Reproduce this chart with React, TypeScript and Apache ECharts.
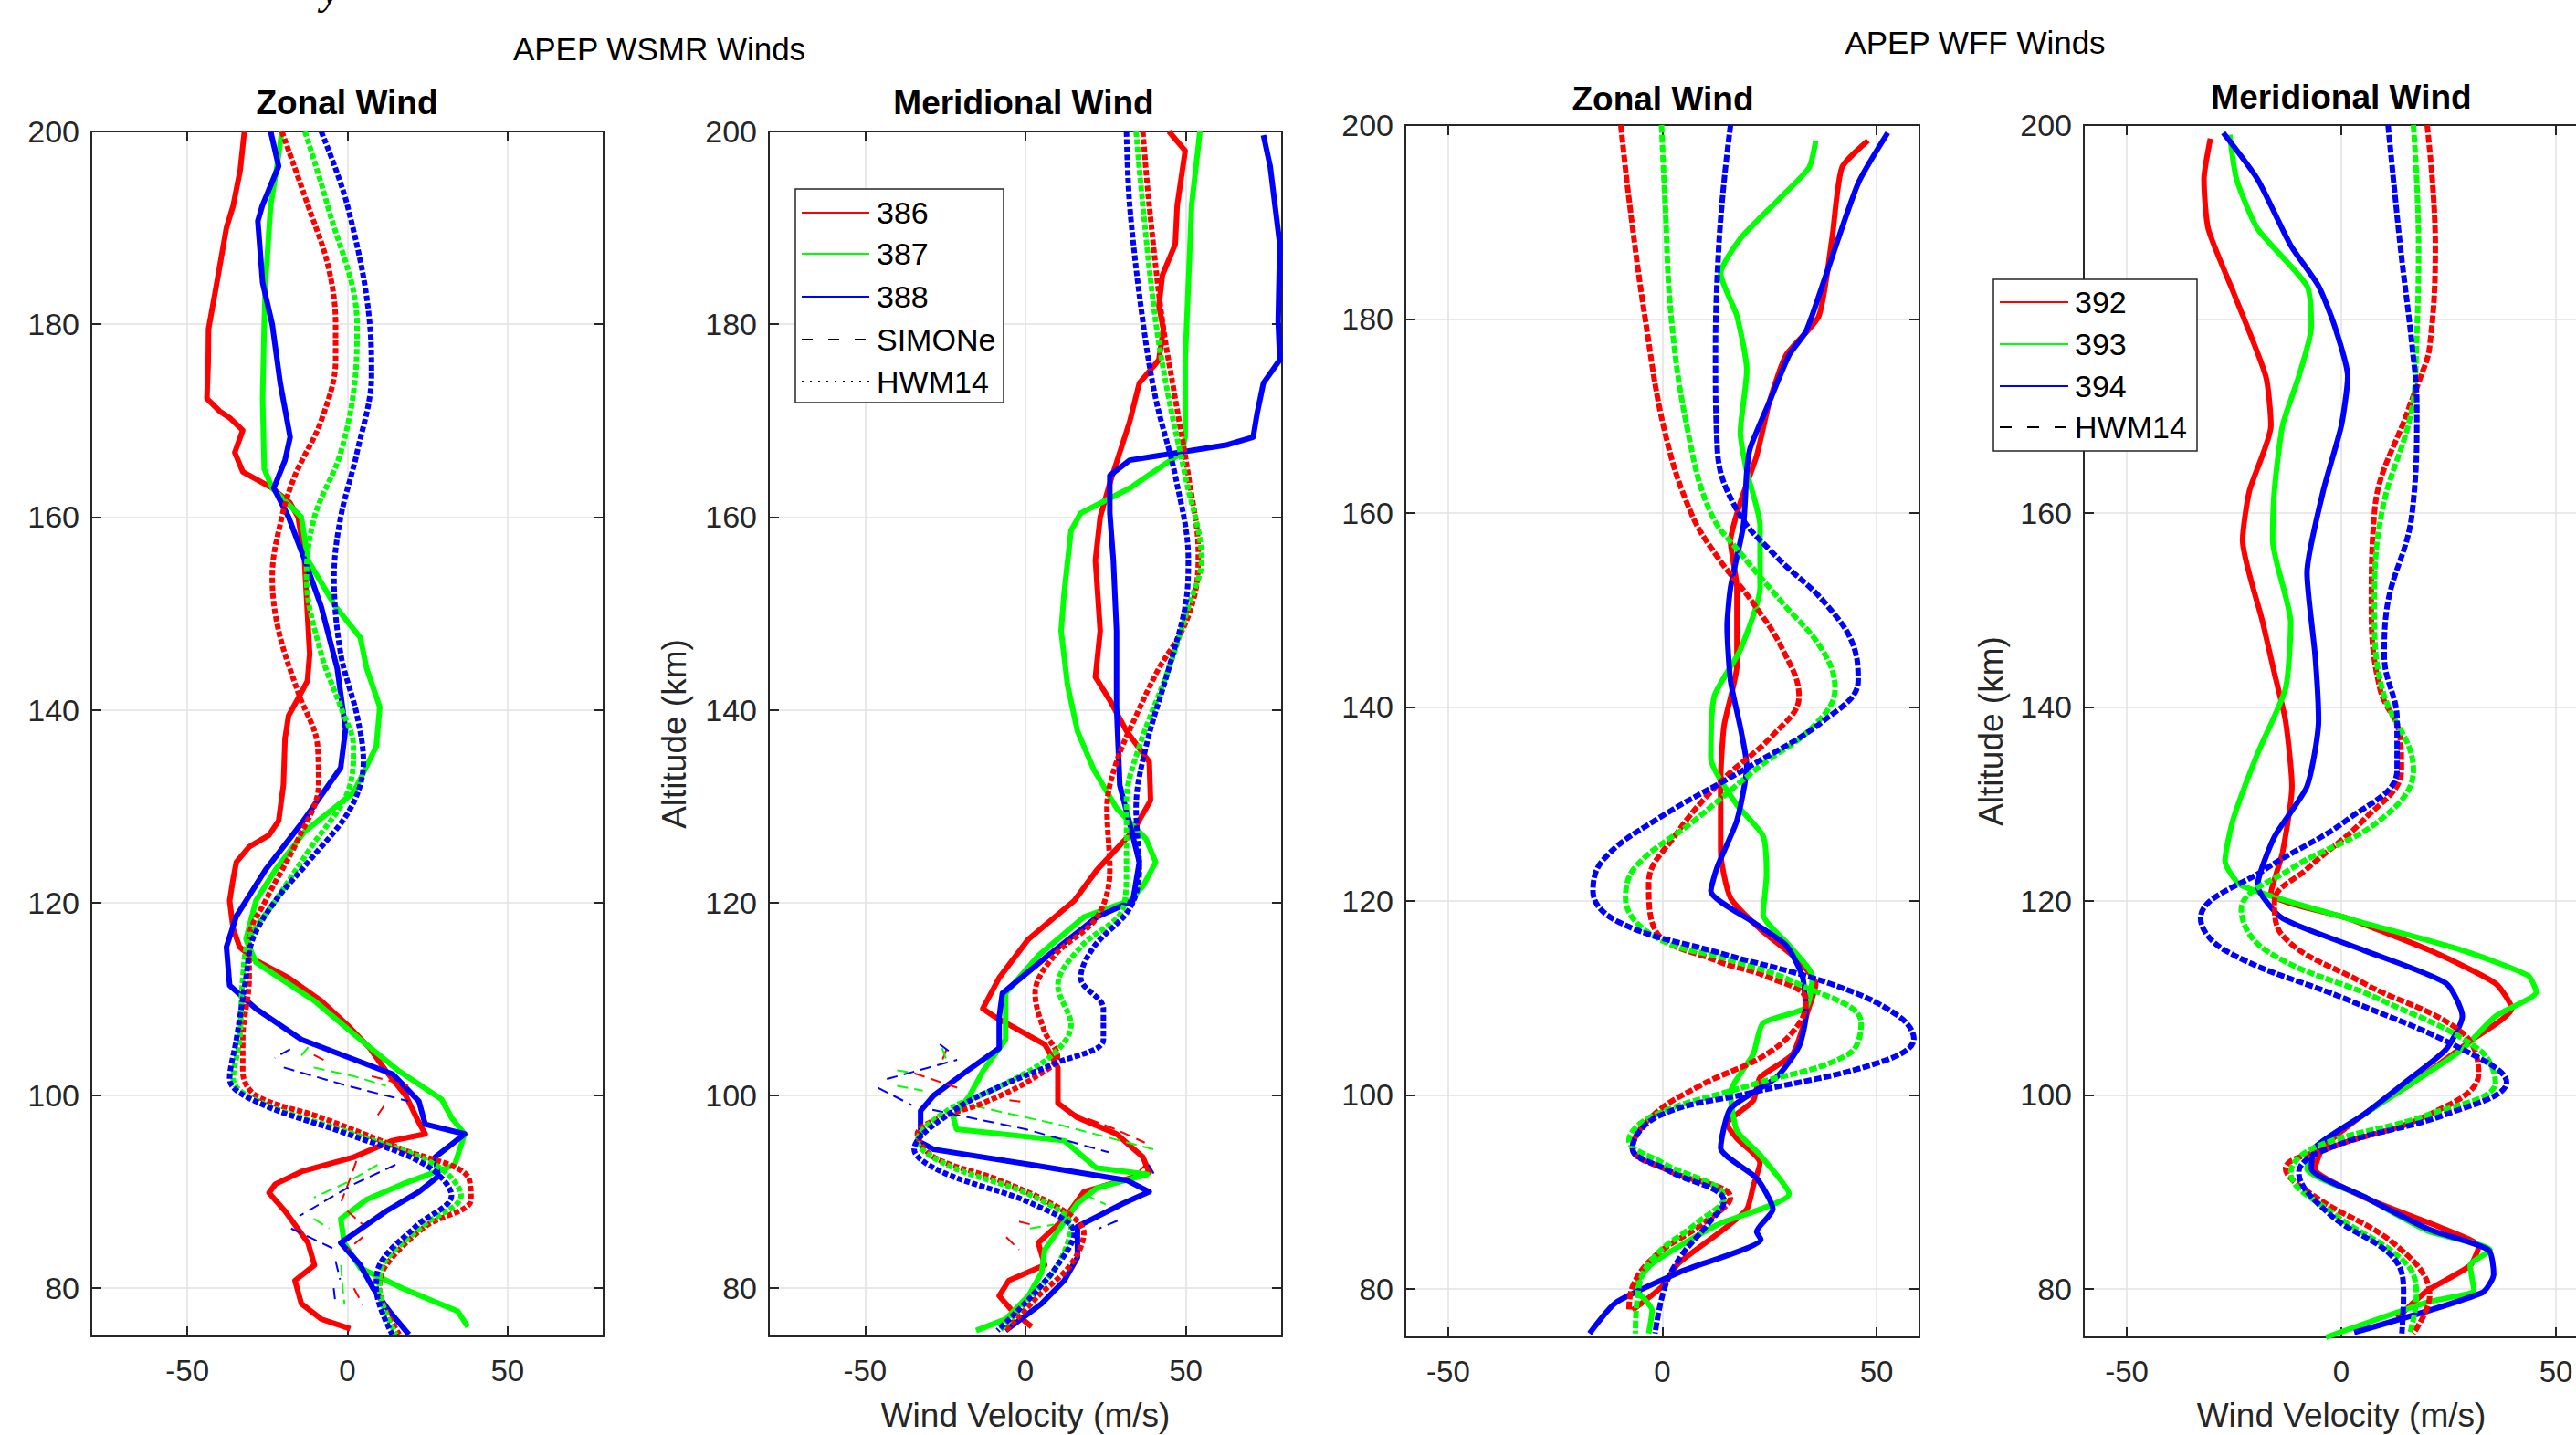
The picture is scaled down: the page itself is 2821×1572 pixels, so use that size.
import React, { useEffect, useRef } from 'react';
import * as echarts from 'echarts';

type Pt = [number, number]; // [altitude km, velocity m/s]

const RED = '#ff0000';
const GREEN = '#00ff00';
const BLUE = '#0000ff';
const FONT = "'Liberation Sans', Arial, Helvetica, sans-serif";
const AXIS_COLOR = '#262626';

const altTicks = [80, 100, 120, 140, 160, 180, 200];
const velTicks = [-50, 0, 50];
const panelTitles = ['Zonal Wind', 'Meridional Wind', 'Zonal Wind', 'Meridional Wind'];
const superTitles = ['APEP WSMR Winds', 'APEP WFF Winds'];
const wsmrFlights = ['386', '387', '388'];
const wffFlights = ['392', '393', '394'];

// ---------- WSMR zonal (panel 1) ----------
const wsmrZonal386: Pt[] = [[200,-32.2],[196,-33.5],[192.3,-35.7],[190,-37.8],[184.3,-40.8],[179.5,-43.4],[176,-43.5],[172.3,-43.9],[171,-40],[170.3,-36.8],[169,-32.7],[166.7,-35.2],[164.7,-32.7],[163,-23.5],[161.5,-18],[160,-15.4],[156,-13.5],[150,-12.5],[145.8,-11.8],[143,-12.5],[141.8,-14.4],[139.4,-18.4],[137,-19.5],[132.2,-20],[128.5,-21.5],[127,-24.5],[125.8,-30.7],[124.2,-34.7],[122.5,-35.7],[120.2,-36.8],[117.3,-35.7],[115.4,-33.7],[114,-28.6],[112.2,-18.4],[109.8,-8.2],[107.3,0],[104.9,7],[102.5,12.1],[100,18.2],[97.2,22.3],[96,24.3],[95.3,14],[93.6,2],[92.1,-14.4],[90.8,-22.5],[89.9,-24.5],[88,-19.5],[84.7,-12.3],[82.4,-10.3],[80.8,-16.4],[78.4,-14.4],[76.8,-8.2],[75.8,0.9]];
const wsmrZonal387: Pt[] = [[200,-20.5],[196.4,-22],[192.3,-24],[184.3,-25.6],[180,-26],[172.3,-26.5],[165,-26],[163,-23.5],[160,-14.4],[155.5,-12.3],[150.7,-3.7],[147.5,4],[144.3,6],[140.3,10.1],[136.2,9],[131.4,1.9],[127.4,-13.3],[123.4,-22.5],[120.2,-28.6],[116.2,-31.7],[113.8,-28.6],[109.8,-10.3],[105.8,4],[102.5,16.2],[99.6,29.4],[97.7,32.5],[96,36.6],[92.8,33.5],[90.8,17.2],[89.2,6],[87.2,-2.1],[84.7,-1],[82.1,4],[80,17.2],[77.6,34.5],[76,37.6]];
const wsmrZonal388: Pt[] = [[200,-24],[196.4,-21.5],[192.3,-26.6],[190.7,-28],[184.3,-26.5],[180,-23.5],[173.9,-21],[168.3,-17.9],[165.9,-19.5],[163,-23],[160,-18.4],[155.5,-13.3],[150.7,-8.2],[144.3,-3.2],[138,-0.6],[134,-2.1],[128.2,-14.4],[123.4,-25.6],[118.6,-34.7],[115.4,-37.8],[111.4,-36.8],[109,-28.6],[105.8,-14.4],[102.2,14.2],[99.4,22.3],[97,24.3],[96,36.6],[93.6,27.4],[91.6,28.4],[90,22.3],[88,12.1],[84.7,-2.1],[82.4,4],[80,8],[77.6,13.1],[75.2,19.2]];
const wsmrZonalHwm386: Pt[] = [[200,-20.5],[192.3,-12.3],[186,-6],[180,-3.7],[176.3,-3.7],[170,-8.2],[164.3,-16.4],[160,-20.5],[153.8,-23.5],[148.2,-21.5],[141.8,-15.4],[136.2,-9.3],[132.2,-9],[126.6,-15.4],[120.2,-25.6],[116.2,-30.7],[112.2,-30.7],[105.8,-32.7],[102.5,-32.7],[100,-28.6],[97.7,-8.2],[94.4,17.2],[91.6,37.6],[89.2,38.6],[86.4,24.3],[82.4,12.1],[80,10],[75.2,16.2]];
const wsmrZonalHwm387: Pt[] = [[200,-13.3],[192.3,-6.2],[180,3],[174.7,2.5],[166.7,-2.1],[160,-10.3],[153.8,-12.8],[145.8,-8.2],[140.3,-2.1],[136.2,1.9],[131.4,0],[125.8,-11.3],[120.2,-22.5],[116.2,-30.7],[112.2,-32.7],[105.8,-33.7],[101.7,-35.7],[99.2,-26.5],[96,1.9],[92.8,27.4],[89.6,35.5],[86.4,23.3],[82.4,11.1],[80,10],[75.2,15.2]];
const wsmrZonalHwm388: Pt[] = [[200,-8.2],[192.3,0],[180,7],[174.7,7.5],[166.7,3],[160,-2.1],[153.8,-4.2],[145.8,-2.1],[139.4,3],[134.6,5],[129.8,1],[124.2,-12.3],[120.2,-22.5],[116.2,-29.6],[112.2,-31.7],[105.8,-34.7],[101.7,-36.8],[99.2,-27.5],[96,0],[92.8,24.3],[89.6,32.5],[86.4,21.3],[82.4,10],[80,9],[75.2,14]];
const wsmrZonalSim386: Pt[][] = [[[104.2,-10.5],[103.4,-5.7]],[[102,7.6],[101,19]],[[98.9,11.4],[97.5,8.5]],[[93.2,2.8],[91.5,1],[89,-1.9]],[[88,0],[86.6,4.8]],[[85.3,4.8],[84,0]],[[80,2],[78.3,4.8]]];
const wsmrZonalSim387: Pt[][] = [[[105,-12.2],[103.9,-15]],[[102.9,-10.5],[102,2],[101,12]],[[92.8,9.4],[91,0],[89.4,-10.5]],[[87.2,-10.5],[86.2,-5.7]],[[82.4,-2],[80,-1.5],[78.3,-0.9]]];
const wsmrZonalSim388: Pt[][] = [[[104.8,-17.9],[103.9,-22.7]],[[102.9,-19.9],[101,0],[99.4,19]],[[92.8,15],[90.8,2],[87.5,-15]],[[86.2,-17.6],[84,-3.7]],[[82.8,-3.7],[80.9,-2.3]],[[80,-4.3],[78.3,-3.7]]];

// ---------- WSMR meridional (panel 2) ----------
const wsmrMerid386: Pt[] = [[200,44.7],[198,49.8],[192.3,47.3],[188.3,46.7],[185.1,42.7],[181.9,41.6],[179.5,43],[176.3,41.6],[173.9,35.5],[169.9,32.5],[166.7,29.4],[163.5,26.3],[160,23.3],[155.5,21.8],[148.2,23.3],[143.4,21.8],[141,26.3],[137.8,31.5],[134.6,38.6],[130.6,39],[127.4,33.5],[123.4,22.3],[120.2,15.2],[116.2,0.9],[112.2,-8.2],[109,-13.3],[108.1,-9.3],[105.3,6],[102.9,10.1],[99.2,10.1],[97.7,16.2],[96,28.4],[93.6,36.6],[92,38.6],[90,18.2],[87.2,12.1],[84.7,4],[82.4,6],[80.8,-5.2],[79.2,-8.2],[77.6,-4],[76,1.9]];
const wsmrMerid387: Pt[] = [[200,54.4],[192.3,51.8],[184.3,50.8],[176.3,49.8],[168.3,49.8],[166.7,48.8],[163,32.5],[160.4,17.2],[158.6,14.2],[152.3,12.1],[148.2,11.1],[142.6,13.1],[137.8,16.2],[133.8,21.3],[129.8,28.4],[126.6,37.6],[124.2,40.6],[121.7,36.6],[120.2,32.5],[118.5,18.2],[114.5,4],[110.6,-6.2],[105.8,-6.2],[102.5,-13.3],[100,-17.4],[97.7,-22.5],[96.5,-21.5],[95.3,12.1],[92.5,22],[91.8,38],[90.4,22.3],[88.8,16.2],[86.4,11.1],[84,6],[81.6,5],[79.2,0.9],[76.8,-6.2],[75.6,-15.4]];
const wsmrMerid388: Pt[] = [[199.6,74.2],[196.4,76.3],[188.3,79.3],[180.3,78.8],[176.3,79.3],[173.9,74.2],[170.7,72.2],[168.3,71],[167.5,63],[165.9,32.5],[164.3,26.3],[160.4,26.3],[155.5,27.4],[148.2,28.4],[140.3,28.4],[132.2,29.4],[128.2,32.5],[124.2,35.5],[120.2,33.5],[118.5,22.3],[114.5,7],[110.6,-7.2],[108.1,-8.2],[104.9,-8.2],[102.5,-18.4],[100,-28.6],[98.4,-32.7],[96,-32.7],[95.3,-33.7],[94.4,-28.6],[92.8,1.9],[91.2,31.5],[90,38.6],[88.8,30.5],[86.4,16.2],[83.2,16.2],[80.8,12.1],[78.4,5],[75.6,-6.2]];
const wsmrMeridHwm386: Pt[] = [[200,36.6],[192.3,38.6],[180.3,42.7],[172.3,46.7],[164.3,50.8],[156.3,53.9],[152.3,53],[148.2,48.8],[144.3,41.6],[139.4,34.5],[134.6,28.4],[129.8,25.4],[123.4,26.3],[118.5,22.3],[114.5,9],[110.6,3],[106.6,6],[104.1,10],[101.7,2],[99.2,-13.3],[97.7,-26.5],[96,-33.7],[93.6,-28.6],[91.2,-8.2],[88,12.1],[85.7,18.2],[82.4,14],[79.2,4],[75.6,-6.2]];
const wsmrMeridHwm387: Pt[] = [[200,34.5],[192.3,36.6],[180.3,40.6],[172.3,44.7],[164.3,49.8],[155.5,54.9],[150.7,50.8],[144.3,44.7],[136.2,35.5],[130.6,31.5],[123.4,31.5],[119.4,30.4],[115.4,17.2],[111.4,10.1],[107.3,14.2],[104.1,8],[100.9,-8.2],[98.4,-24.5],[95.3,-33.7],[92.8,-24.5],[89.6,1.9],[86.4,14.2],[82.4,10],[79.2,2],[75.6,-8]];
const wsmrMeridHwm388: Pt[] = [[200,31.5],[192.3,32.5],[180.3,36.6],[172.3,40.6],[164.3,46.7],[155.5,50.8],[150.7,49.8],[144.3,44.7],[136.2,37.6],[129.8,34.5],[123.4,35.5],[119.4,32.5],[115.4,21.3],[112.2,17.2],[109,24.3],[105.8,24.3],[103.3,9],[100.9,-8.2],[98.4,-22.5],[94.4,-34.7],[92,-25.6],[88.8,1.9],[85.7,15.2],[82.4,10],[79.2,2],[75.6,-8.7]];
const wsmrMeridSim386: Pt[][] = [[[104.8,-24.6],[103.6,-26]],[[102.3,-34.7],[100.8,-21.3]],[[99.5,-5],[99.3,0]],[[98.2,14.5],[96.5,28],[95.1,37.2]],[[93,38],[92,35]],[[86.9,-2],[86.6,1.8]],[[85.3,-6],[84,-2]]];
const wsmrMeridSim387: Pt[][] = [[[104.9,-26],[103.8,-24.8]],[[102.6,-40],[102.3,-34.7]],[[101,-40],[100.5,-32]],[[99.3,-21.3],[97,10],[94.4,40]],[[89.7,18.5],[88.7,25]],[[86.2,1.4],[86.6,8.9]]];
const wsmrMeridSim388: Pt[][] = [[[105.3,-26.7],[104.6,-23.9]],[[101.7,-43.2],[103.7,-21.3]],[[100.8,-46],[99,-35.5]],[[98.5,-29],[96.5,0],[94.1,25.9]],[[92.8,38.4],[91.9,40]],[[87,28.7],[86.2,23]]];

// ---------- WFF zonal (panel 3) ----------
const wffZonal392: Pt[] = [[198.4,48],[195.6,41.9],[188.3,39.6],[180.3,36.5],[176.3,28.9],[171.5,25],[165.9,22],[161.1,18.2],[157.1,15.9],[152.3,17.4],[144.3,17.4],[138.1,14.4],[132.5,13.6],[125.1,13.6],[120.3,15.9],[117.1,22.8],[113.8,31.9],[111.4,35.8],[109,34.2],[104.2,30.4],[101.8,22.8],[99.4,21.2],[97,15.1],[95.5,17.4],[93,22.8],[90.6,21.2],[88.2,19.7],[85.9,13.6],[82.6,3.7],[80.2,-0.2],[77.8,-7]];
const wffZonal393: Pt[] = [[198.4,35.8],[195.6,34.2],[192.4,27.3],[188.3,18.2],[184.7,13.6],[180.3,17.4],[174.7,19.7],[168.3,18.2],[164.3,19.7],[158.7,22.8],[152.3,22.8],[145.9,18.2],[141.1,12.1],[134.7,11.3],[129.9,17.4],[126.7,23.5],[122.7,24.3],[118.6,23.5],[115.4,29.6],[112.2,35],[109,33.5],[107.4,23.5],[104.2,21.2],[100.2,15.9],[96.3,17.4],[93.8,22.8],[89.8,29.6],[86.6,12.8],[82.6,-2.4],[80.2,-6.3],[77.8,-2.4],[75.4,-3.2]];
const wffZonal394: Pt[] = [[199.2,52.6],[194,45.7],[184.3,38],[178.7,33.5],[176.3,29.6],[171.5,25],[166.7,20.5],[164.3,19.7],[158.7,18.9],[152.3,15.9],[148.3,15.1],[142.7,15.9],[137.9,18.2],[133.9,19.7],[128.3,17.4],[123.5,12.8],[121,11.3],[117.8,21.2],[115.4,28.9],[112.2,32.7],[108.2,33.5],[105,31.9],[101.8,26.6],[98.6,15.9],[94.5,13.6],[91.4,22],[88.2,25.8],[85.9,22],[85.1,23],[81.8,4.4],[78.6,-10.8],[75.4,-17]];
const wffZonalHwm392: Pt[] = [[200,-9.7],[192.4,-7.8],[180,-4],[168.3,0.6],[160,6.7],[155.5,12.8],[150.7,21.2],[145.9,28.1],[141.1,31.9],[137.1,25.8],[132.3,13.6],[126.7,2.9],[121.8,-3.2],[117,-1.7],[113.8,12.8],[112.2,24.3],[109.8,33.5],[107.4,32],[104.2,24.3],[101,9],[97.8,-2.4],[94.5,-7],[92.2,1.4],[89.4,15.9],[86.6,9],[83.4,-1.7],[80.2,-7],[77.8,-7.8]];
const wffZonalHwm393: Pt[] = [[200,-0.2],[192.4,0.6],[180,2.1],[168.3,6],[160,11.3],[155.5,18.9],[150.7,28.1],[145.9,37.3],[141.9,40.3],[137.9,35],[133.9,22.8],[128.3,7.5],[123.5,-6.3],[120.3,-8.6],[116.3,-1.7],[113.8,16.7],[111.4,31.9],[107.4,46.4],[104.2,43.4],[101,20.5],[97.8,-2.4],[95.3,-7.8],[93,0],[89.4,14.4],[86.6,7.5],[83.4,-1.7],[80.2,-5.5],[75.4,-6.3]];
const wffZonalHwm394: Pt[] = [[200,15.9],[192.4,14],[184.3,12.8],[176.3,12.4],[166.7,12.8],[160.3,17.4],[155.5,26.6],[150.7,38],[145.9,44.9],[142.7,45.7],[138.7,38],[133.9,20.5],[128.3,-1.7],[124.2,-13.9],[121,-16.2],[117.8,-10.1],[114.6,13.6],[111.4,39.6],[108.2,54.9],[105.8,58.7],[103.4,51],[100.2,20.5],[97.8,-1],[94.5,-7],[92.2,1.4],[89,14.4],[86.6,10.5],[83.4,4.4],[80.2,0.6],[75.4,-1.7]];

// ---------- WFF meridional (panel 4) ----------
const wffMerid392: Pt[] = [[198.6,-30.5],[194.4,-32],[189.3,-31],[182.6,-25],[174.1,-17.6],[169,-16.4],[162.3,-21.4],[157.2,-23],[148.7,-18.3],[143.5,-15.6],[138.6,-13],[131.8,-11.5],[125,-13.7],[120.8,-16.4],[118.2,1.5],[114.9,20.6],[111.5,35.9],[108.9,39.7],[105.6,30.2],[101.3,16.8],[98,5.3],[94.6,-4.2],[92.4,-6.1],[89.5,5],[86.1,24.4],[84.4,32],[82.4,30],[79.8,20],[77,13]];
const wffMerid393: Pt[] = [[199,-26],[194.4,-24.4],[189.3,-19.5],[183.4,-8],[179.2,-7],[174.1,-9.9],[169,-13.7],[162.3,-15.6],[157.2,-16],[148.7,-11.8],[141.9,-13],[135.2,-19.5],[128.4,-25.2],[124.1,-27.1],[121.6,-23.3],[118.2,1.5],[114.9,28.2],[112.3,43.5],[110.6,45.4],[108.1,35.9],[104.7,28.2],[101.3,16.8],[98,5.3],[94.6,-6.1],[92.4,-8],[89.5,5.3],[86,20],[84,34.7],[82.4,30],[79.9,30.9],[78.6,19.8],[75,-3.6]];
const wffMerid394: Pt[] = [[199.2,-27.5],[194.4,-19.5],[187.6,-11.8],[183.4,-5.3],[179.2,-1.5],[174.1,1.5],[169,0],[162.3,-4.2],[153.8,-8],[145.3,-6.1],[138.6,-5.3],[131.8,-8],[126.6,-15.6],[121.6,-19.5],[118.2,-13.7],[114.9,5.3],[111.5,24.4],[108.1,28.2],[104.7,24.4],[101.3,14.9],[98,5.3],[94.6,-6.1],[92.4,-7],[89.5,5.3],[86.1,20.6],[84,34.3],[81.5,35.5],[79.6,32.8],[75.5,3]];
const wffMeridHwm392: Pt[] = [[200,20],[187.7,21.9],[177.2,20.6],[173.8,18.3],[170.9,15.8],[160,7.7],[150,7],[141.9,9],[136.9,13.7],[133.5,14],[128.4,5.3],[123.3,-8],[119.9,-15.6],[116.6,-14],[111.5,5.3],[106.4,28.2],[102.2,32],[98,20.6],[94.6,-2.3],[92.4,-13],[89.5,-6.1],[84.4,13],[79.3,20.6],[75.4,16.8]];
const wffMeridHwm393: Pt[] = [[200,16.8],[187.7,18],[177.2,17.5],[170.9,16.5],[160,9.4],[149.8,7.7],[141.9,9.5],[133.5,16.8],[128.4,9.2],[123.3,-11.8],[119.1,-23.3],[114.9,-17.6],[109.8,9.2],[104.7,32],[101.3,35.9],[98,20.6],[94.6,-6.1],[92,-11.8],[87.8,-2],[82.7,14.9],[79.3,17.5],[75.4,16]];
const wffMeridHwm394: Pt[] = [[200,10.9],[187.7,13.7],[177.2,16.5],[170.9,17.6],[160,16.5],[149.8,10.5],[145.3,10],[138.6,13],[133.5,13],[128.4,1.5],[123.3,-17.6],[118.2,-32.8],[114.9,-27.1],[109.8,1.5],[104.7,28.2],[101.3,38.5],[98,24.4],[94.6,-2.3],[92,-9.9],[87.8,-3],[82.7,13],[79.3,14.5],[75.4,14.1]];

// ---------- layout ----------
const grids = [
  { left: 100, top: 144, width: 561, height: 1320, xMin: -80, xMax: 80 },
  { left: 842, top: 144, width: 562, height: 1320, xMin: -80, xMax: 80 },
  { left: 1539, top: 137, width: 563, height: 1328, xMin: -60, xMax: 60 },
  { left: 2282, top: 137, width: 564, height: 1328, xMin: -60, xMax: 60 },
];

const toData = (pts: Pt[]) => pts.map(([a, v]) => [v, a]);
const segData = (segs: Pt[][]) => {
  const out: any[] = [];
  segs.forEach((s, i) => {
    if (i) out.push(['-', '-']);
    s.forEach(([a, v]) => out.push([v, a]));
  });
  return out;
};

function lineSeries(panel: number, color: string, data: any[], width: number, type: any, smooth: number | boolean, z: number) {
  return {
    type: 'line',
    xAxisIndex: panel * 2,
    yAxisIndex: panel * 2,
    data,
    symbol: 'none',
    showSymbol: false,
    smooth,
    silent: true,
    z,
    clip: true,
    connectNulls: false,
    lineStyle: { color, width, type, cap: 'butt', join: 'round' },
  };
}

function buildOption() {
  const xAxis: any[] = [];
  const yAxis: any[] = [];
  grids.forEach((g, i) => {
    const tickStyle = { color: AXIS_COLOR, width: 2 };
    xAxis.push({
      gridIndex: i, type: 'value', min: g.xMin, max: g.xMax, position: 'bottom',
      axisLine: { show: true, onZero: false, lineStyle: { color: AXIS_COLOR, width: 2 } },
      axisTick: { show: true, inside: true, length: 11, customValues: velTicks, lineStyle: tickStyle },
      axisLabel: { show: true, customValues: velTicks, margin: 21, fontSize: 33, color: AXIS_COLOR, fontFamily: FONT },
      splitLine: { show: true, lineStyle: { color: '#e2e2e2', width: 1.5 } },
    });
    xAxis.push({
      gridIndex: i, type: 'value', min: g.xMin, max: g.xMax, position: 'top',
      axisLine: { show: true, onZero: false, lineStyle: { color: AXIS_COLOR, width: 2 } },
      axisTick: { show: true, inside: true, length: 11, customValues: velTicks, lineStyle: tickStyle },
      axisLabel: { show: false },
      splitLine: { show: false },
    });
    yAxis.push({
      gridIndex: i, type: 'value', min: 75, max: 200, position: 'left',
      axisLine: { show: true, onZero: false, lineStyle: { color: AXIS_COLOR, width: 2 } },
      axisTick: { show: true, inside: true, length: 11, customValues: altTicks, lineStyle: tickStyle },
      axisLabel: { show: true, customValues: altTicks, margin: 13, fontSize: 34, color: AXIS_COLOR, fontFamily: FONT },
      splitLine: { show: true, lineStyle: { color: '#e2e2e2', width: 1.5 } },
    });
    yAxis.push({
      gridIndex: i, type: 'value', min: 75, max: 200, position: 'right',
      axisLine: { show: true, onZero: false, lineStyle: { color: AXIS_COLOR, width: 2 } },
      axisTick: { show: true, inside: true, length: 11, customValues: altTicks, lineStyle: tickStyle },
      axisLabel: { show: false },
      splitLine: { show: false },
    });
  });

  const SOLID_W = 6;
  const HWM_W = 6;
  const dotted = [6, 2.5];
  const dashedThick = [8.5, 2.5];
  const simDash = [12, 7];
  const series: any[] = [];
  const colors = [RED, GREEN, BLUE];

  // panel 1
  [wsmrZonal386, wsmrZonal387, wsmrZonal388].forEach((d, k) => series.push(lineSeries(0, colors[k], toData(d), SOLID_W, 'solid', false, 3)));
  [wsmrZonalSim386, wsmrZonalSim387, wsmrZonalSim388].forEach((d, k) => series.push(lineSeries(0, colors[k], segData(d), 2, simDash, false, 4)));
  [wsmrZonalHwm386, wsmrZonalHwm387, wsmrZonalHwm388].forEach((d, k) => series.push(lineSeries(0, colors[k], toData(d), HWM_W, dotted, 0.35, 5)));
  // panel 2
  [wsmrMerid386, wsmrMerid387, wsmrMerid388].forEach((d, k) => series.push(lineSeries(1, colors[k], toData(d), SOLID_W, 'solid', false, 3)));
  [wsmrMeridSim386, wsmrMeridSim387, wsmrMeridSim388].forEach((d, k) => series.push(lineSeries(1, colors[k], segData(d), 2, simDash, false, 4)));
  [wsmrMeridHwm386, wsmrMeridHwm387, wsmrMeridHwm388].forEach((d, k) => series.push(lineSeries(1, colors[k], toData(d), HWM_W, dotted, 0.35, 5)));
  // panel 3
  [wffZonal392, wffZonal393, wffZonal394].forEach((d, k) => series.push(lineSeries(2, colors[k], toData(d), SOLID_W, 'solid', 0.2, 3)));
  [wffZonalHwm392, wffZonalHwm393, wffZonalHwm394].forEach((d, k) => series.push(lineSeries(2, colors[k], toData(d), HWM_W, dashedThick, 0.4, 5)));
  // panel 4
  [wffMerid392, wffMerid393, wffMerid394].forEach((d, k) => series.push(lineSeries(3, colors[k], toData(d), SOLID_W, 'solid', 0.2, 3)));
  [wffMeridHwm392, wffMeridHwm393, wffMeridHwm394].forEach((d, k) => series.push(lineSeries(3, colors[k], toData(d), HWM_W, dashedThick, 0.4, 5)));

  const txt = (x: number, y: number, text: string, fontSize: number, extra: any = {}) => ({
    type: 'text', x, y, z: 100, silent: true,
    rotation: extra.rotation || 0,
    style: {
      text, fill: extra.fill || AXIS_COLOR, fontSize, fontFamily: extra.fontFamily || FONT,
      fontWeight: extra.fontWeight || 'normal', fontStyle: extra.fontStyle || 'normal',
      align: extra.align || 'center', textAlign: extra.align || 'center',
      verticalAlign: extra.verticalAlign || 'middle', textVerticalAlign: extra.verticalAlign || 'middle',
    },
  });
  const lgLine = (x1: number, x2: number, y: number, color: string, dash: any) => ({
    type: 'line', z: 101, silent: true,
    shape: { x1, y1: y, x2, y2: y },
    style: { stroke: color, lineWidth: 2, lineDash: dash },
  });

  const graphic: any[] = [];
  // cut-off text fragment at the very top of the page (as in the source image)
  graphic.push(txt(362, 11, 'y', 46, { fill: '#000', fontFamily: "'Liberation Serif', 'DejaVu Serif', serif", fontStyle: 'italic', verticalAlign: 'bottom' }));
  // super titles
  graphic.push(txt(722, 53, superTitles[0], 35, { fill: '#000' }));
  graphic.push(txt(2163, 46, superTitles[1], 35, { fill: '#000' }));
  // panel titles
  const titlePos = [[380, 112], [1121, 112], [1821, 108], [2564, 106]];
  titlePos.forEach(([x, y], i) => graphic.push(txt(x, y, panelTitles[i], 37, { fill: '#000', fontWeight: 'bold' })));
  // axis labels
  graphic.push(txt(738, 804, 'Altitude (km)', 37, { rotation: Math.PI / 2 }));
  graphic.push(txt(2180, 801, 'Altitude (km)', 37, { rotation: Math.PI / 2 }));
  graphic.push(txt(1123, 1550, 'Wind Velocity (m/s)', 37));
  graphic.push(txt(2564, 1550, 'Wind Velocity (m/s)', 37));

  // legend 1
  graphic.push({ type: 'rect', z: 100, silent: true, shape: { x: 871, y: 207, width: 228, height: 234 }, style: { fill: '#fff', stroke: AXIS_COLOR, lineWidth: 1.5 } });
  const lg1Rows = [233, 278, 325, 372, 418];
  const lg1Labels = [...wsmrFlights, 'SIMONe', 'HWM14'];
  const lg1Colors = [RED, GREEN, BLUE, '#000', '#000'];
  const lg1Dash = [null, null, null, [12, 17], [2, 7]];
  lg1Rows.forEach((y, i) => {
    graphic.push(lgLine(878, 952, y, lg1Colors[i], lg1Dash[i]));
    graphic.push(txt(960, y, lg1Labels[i], 34, { align: 'left', fill: '#000' }));
  });
  // legend 2
  graphic.push({ type: 'rect', z: 100, silent: true, shape: { x: 2183, y: 306, width: 223, height: 188 }, style: { fill: '#fff', stroke: AXIS_COLOR, lineWidth: 1.5 } });
  const lg2Rows = [331, 377, 423, 468];
  const lg2Labels = [...wffFlights, 'HWM14'];
  const lg2Colors = [RED, GREEN, BLUE, '#000'];
  const lg2Dash = [null, null, null, [13, 17]];
  lg2Rows.forEach((y, i) => {
    graphic.push(lgLine(2190, 2265, y, lg2Colors[i], lg2Dash[i]));
    graphic.push(txt(2272, y, lg2Labels[i], 34, { align: 'left', fill: '#000' }));
  });

  return {
    animation: false,
    backgroundColor: '#ffffff',
    grid: grids.map((g) => ({ left: g.left, top: g.top, width: g.width, height: g.height, containLabel: false })),
    xAxis,
    yAxis,
    series,
    graphic,
  };
}

export default function App() {
  const ref = useRef<HTMLDivElement>(null);
  useEffect(() => {
    if (!ref.current) return;
    const chart = echarts.init(ref.current, undefined, { renderer: 'svg' });
    chart.setOption(buildOption() as any);
    return () => chart.dispose();
  }, []);
  return (
    <div style={{ position: 'fixed', left: 0, top: 0, width: 2821, height: 1572, overflow: 'hidden', background: '#fff' }}>
      <div ref={ref} style={{ width: 2900, height: 1572 }} />
    </div>
  );
}
